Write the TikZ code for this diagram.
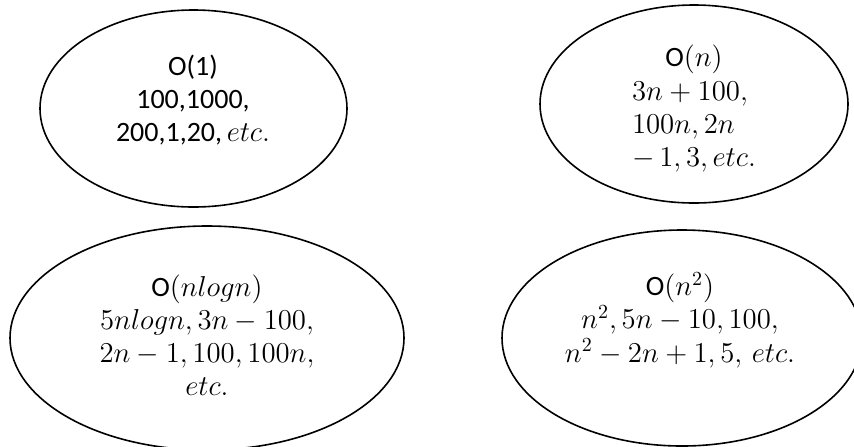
\documentclass[tikz,border=0pt]{standalone}
\usepackage{amsmath,amssymb}
\usepackage{fontspec}
\setmainfont{Carlito}
\usepackage{tikz}
\usetikzlibrary{shapes.geometric}

\begin{document}
\begin{tikzpicture}[x=0.5pt,y=-0.5pt,
  conjunto/.style={draw,ellipse,line width=0.8pt,inner sep=0pt},
  texto/.style={align=center,font=\fontsize{14}{16.6}\selectfont}]
  \useasboundingbox (0,0) rectangle (854,446);
  \clip (0,0) rectangle (854,446);

  \node[conjunto,minimum width=153.5pt,minimum height=98.5pt] (E1) at (193.5,108.5) {};
  \node[conjunto,minimum width=154pt,minimum height=99pt] (E2) at (694,104) {};
  \node[conjunto,minimum width=197pt,minimum height=112pt] (E3) at (207,338) {};
  \node[conjunto,minimum width=180pt,minimum height=108pt] (E4) at (682,338) {};

  \node[texto] (T1) at (193,100) {O(1)\\100,1000,\\200,1,20,\,$etc.$};
  \node[texto] (T2) at (694,110) {\begin{tabular}{@{}l@{}}
    \multicolumn{1}{c}{O$(n)$}\\
    $3n+100,$\\
    $100n,2n$\\
    $-\,1,3,etc.$
  \end{tabular}};
  \node[texto] (T3) at (207,335) {O$(nlogn)$\\$5nlogn,3n-100,$\\$2n-1,100,100n,$\\$etc.$};
  \node[texto] (T4) at (680,320) {O$(n^2)$\\$n^2,5n-10,100,$\\$n^2-2n+1,5,\,etc.$};
\end{tikzpicture}
\end{document}
